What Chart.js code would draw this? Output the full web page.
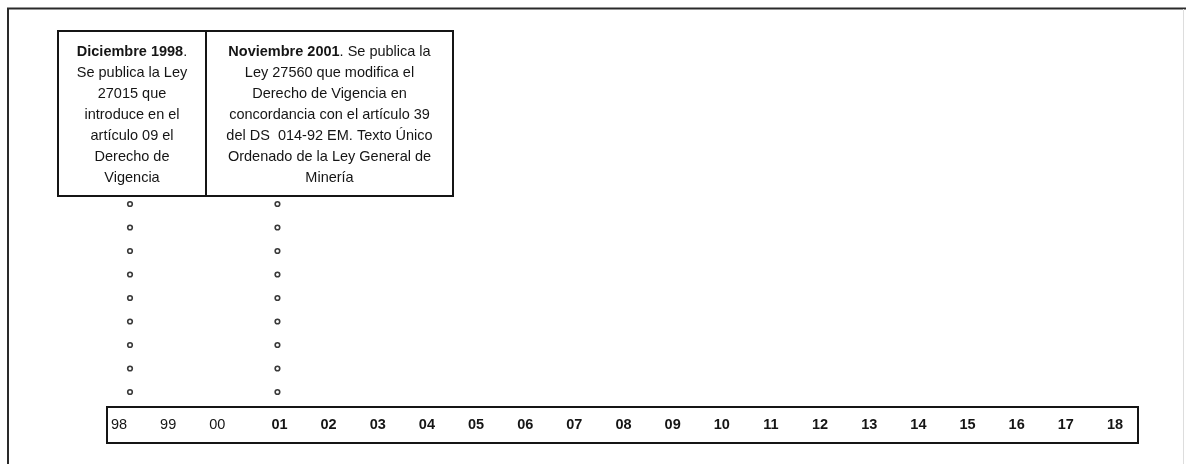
<!DOCTYPE html>
<html>
<head>
<meta charset="utf-8">
<script src="https://cdn.jsdelivr.net/npm/chart.js@4.4.0/dist/chart.umd.min.js"></script>
<style>
  body { margin: 0; background: #fff; }
  canvas { display: block; }
</style>
</head>
<body>
<canvas id="timeline" width="1186" height="464"></canvas>
<script>
// timeline data
const years = [1998, 1999, 2000, 2001, 2002, 2003, 2004, 2005, 2006, 2007, 2008,
               2009, 2010, 2011, 2012, 2013, 2014, 2015, 2016, 2017, 2018];
const yearLabels = ['98', '99', '00', '01', '02', '03', '04', '05', '06', '07', '08',
                    '09', '10', '11', '12', '13', '14', '15', '16', '17', '18'];
const eventYears = [1998, 2001];
const dotRows = [1, 2, 3, 4, 5, 6, 7, 8, 9];

// text of the two notes (title is bold, rest regular)
const eventTitles = ['Diciembre 1998', 'Noviembre 2001'];
const eventLines = [
    ['.', 'Se publica la Ley', '27015 que', 'introduce en el', 'artículo 09 el', 'Derecho de', 'Vigencia'],
    ['. Se publica la', 'Ley 27560 que modifica el', 'Derecho de Vigencia en',
     'concordancia con el artículo 39', 'del DS  014-92 EM. Texto Único',
     'Ordenado de la Ley General de', 'Minería'],
];

const FONT = '"Liberation Sans", Arial, sans-serif';
const INK = '#151515';

// build the dotted columns from the event years
const dots = [];
eventYears.forEach((yr) => {
    dotRows.forEach((r) => dots.push({ x: yr, y: r }));
});

// draws the frame, note boxes and the year strip
const timelinePlugin = {
    id: 'timeline',
    afterDraw(chart) {
        const ctx = chart.ctx;
        const area = chart.chartArea;
        const xs = chart.scales.x;
        ctx.save();

        // outer frame
        ctx.strokeStyle = '#2a2a2a';
        ctx.lineWidth = 2;
        ctx.beginPath();
        ctx.moveTo(8, 464);
        ctx.lineTo(8, 8.5);
        ctx.lineTo(1186, 8.5);
        ctx.stroke();
        ctx.strokeStyle = '#dddddd';
        ctx.lineWidth = 1;
        ctx.beginPath();
        ctx.moveTo(1183.5, 9);
        ctx.lineTo(1183.5, 464);
        ctx.stroke();

        // note boxes
        const boxTop = 31, boxBottom = 196;
        const edges = [58, 206, 453];
        ctx.strokeStyle = INK;
        ctx.lineWidth = 2;
        ctx.strokeRect(edges[0], boxTop, edges[2] - edges[0], boxBottom - boxTop);
        ctx.beginPath();
        ctx.moveTo(edges[1], boxTop);
        ctx.lineTo(edges[1], boxBottom);
        ctx.stroke();

        ctx.fillStyle = INK;
        ctx.textBaseline = 'middle';
        ctx.textAlign = 'left';
        const bold = 'bold 14.5px ' + FONT;
        const reg = '14.5px ' + FONT;
        eventLines.forEach((lines, i) => {
            const cx = (edges[i] + edges[i + 1]) / 2;
            lines.forEach((txt, j) => {
                const y = 52 + j * 21;
                if (j === 0) {
                    ctx.font = bold;
                    const w1 = ctx.measureText(eventTitles[i]).width;
                    ctx.font = reg;
                    const w2 = ctx.measureText(txt).width;
                    let x = cx - (w1 + w2) / 2;
                    ctx.font = bold;
                    ctx.fillText(eventTitles[i], x, y);
                    ctx.font = reg;
                    ctx.fillText(txt, x + w1, y);
                } else {
                    ctx.font = reg;
                    const w = ctx.measureText(txt).width;
                    ctx.fillText(txt, cx - w / 2, y);
                }
            });
        });

        // year strip
        const stripTop = area.bottom - 36;
        ctx.strokeStyle = INK;
        ctx.lineWidth = 2;
        ctx.strokeRect(area.left, stripTop, area.right - area.left, area.bottom - stripTop);

        ctx.textAlign = 'center';
        years.forEach((yr, i) => {
            let x = xs.getPixelForValue(yr);
            if (yr < 2001) {
                // the early labels sit a bit to the left and are not bold
                ctx.font = '14.5px ' + FONT;
                x -= 11;
            } else {
                ctx.font = 'bold 14.5px ' + FONT;
                x += 2;
            }
            ctx.fillText(yearLabels[i], x, stripTop + 18);
        });

        ctx.restore();
    }
};

new Chart(document.getElementById('timeline'), {
    type: 'scatter',
    data: {
        datasets: [{
            data: dots,
            pointRadius: 2.3,
            pointBorderWidth: 1.6,
            borderColor: '#3a3a3a',
            backgroundColor: '#ffffff',
            showLine: false,
        }],
    },
    options: {
        responsive: false,
        animation: false,
        events: [],
        layout: { padding: { left: 107, right: 48, top: 31, bottom: 21 } },
        plugins: { legend: { display: false }, tooltip: { enabled: false } },
        scales: {
            x: { type: 'linear', display: false, min: 1997.532, max: 2018.509 },
            y: { type: 'linear', display: false, min: -1.17, max: 16.36 },
        },
    },
    plugins: [timelinePlugin],
});
</script>
</body>
</html>
